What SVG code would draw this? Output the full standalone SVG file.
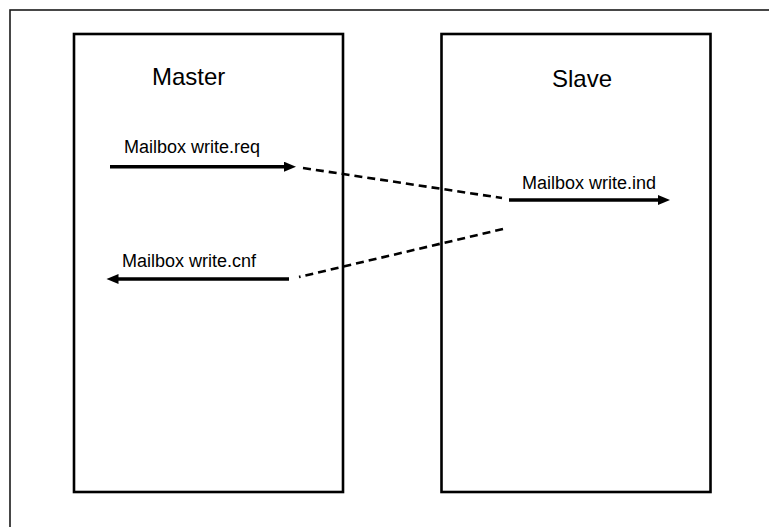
<svg xmlns="http://www.w3.org/2000/svg" width="769" height="527" viewBox="0 0 769 527">
  <style>
    .frame { fill: none; stroke: #1a1a1a; stroke-width: 1.6; }
    .box { fill: #ffffff; stroke: #000000; stroke-width: 2.6; }
    .title { font-family: "Liberation Sans", Arial, sans-serif; font-size: 24px; fill: #000000; }
    .label { font-family: "Liberation Sans", Arial, sans-serif; font-size: 18px; fill: #000000; }
    .msg { stroke: #000000; stroke-width: 3.4; fill: none; }
    .link { stroke: #000000; stroke-width: 2.6; fill: none; stroke-dasharray: 8 5; }
  </style>
  <defs>
    <!-- head drawn past the line end so the thick stroke does not poke out at the tip -->
    <marker id="arrow" markerUnits="userSpaceOnUse" markerWidth="14" markerHeight="12" refX="4" refY="5" orient="auto">
      <path d="M0,0 L12,5 L0,10 Z" fill="#000000"/>
    </marker>
  </defs>

  <rect width="769" height="527" fill="#ffffff"/>
  <!-- outer frame, runs past the right and bottom edges -->
  <rect class="frame" x="10" y="10" width="780" height="540"/>

  <g id="master">
    <rect class="box" x="74" y="34" width="269" height="458"/>
    <text class="title" x="152" y="85">Master</text>
  </g>

  <g id="slave">
    <rect class="box" x="441.5" y="34" width="269" height="458"/>
    <text class="title" x="552" y="87">Slave</text>
  </g>

  <g id="connectors">
    <g id="write-req">
      <line class="msg" x1="110" y1="166.7" x2="288" y2="166.7" marker-end="url(#arrow)"/>
      <text class="label" x="124" y="153.3">Mailbox write.req</text>
    </g>
    <line class="link" x1="303" y1="168" x2="502" y2="198"/>
    <g id="write-ind">
      <line class="msg" x1="509" y1="200" x2="662" y2="200" marker-end="url(#arrow)"/>
      <text class="label" x="522" y="189.3">Mailbox write.ind</text>
    </g>
    <line class="link" x1="503" y1="229" x2="299" y2="277"/>
    <g id="write-cnf">
      <line class="msg" x1="289" y1="279" x2="114.5" y2="279" marker-end="url(#arrow)"/>
      <text class="label" x="122" y="266.7">Mailbox write.cnf</text>
    </g>
  </g>
</svg>
